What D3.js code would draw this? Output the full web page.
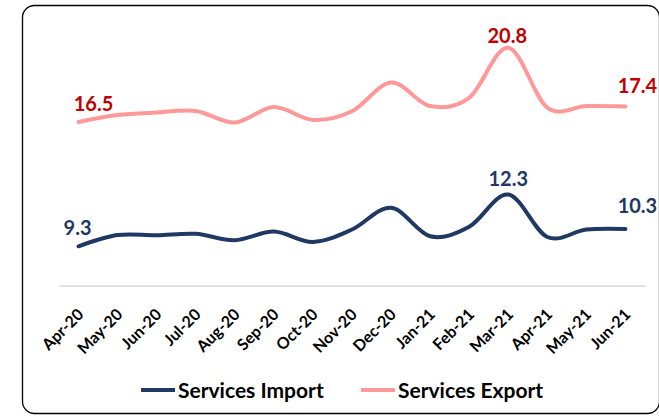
<!DOCTYPE html>
<html>
<head>
<meta charset="utf-8">
<script src="https://cdn.jsdelivr.net/npm/d3@7"></script>
<style>
  html, body { margin: 0; padding: 0; background: #fff; }
  svg { display: block; font-family: Lato, "Open Sans", sans-serif; }
</style>
</head>
<body>
<div id="chart"></div>
<script>
// data
const months = ["Apr-20", "May-20", "Jun-20", "Jul-20", "Aug-20", "Sep-20", "Oct-20", "Nov-20",
  "Dec-20", "Jan-21", "Feb-21", "Mar-21", "Apr-21", "May-21", "Jun-21"];
const servicesImport = [9.3, 9.95, 9.94, 10.02, 9.65, 10.15, 9.55, 10.27, 11.53, 9.88, 10.43, 12.3, 9.84, 10.27, 10.3];
const servicesExport = [16.5, 16.9, 17.05, 17.14, 16.47, 17.37, 16.62, 17.12, 18.78, 17.42, 17.9, 20.8, 17.33, 17.42, 17.4];
const labelled = [0, 11, 14];

const width = 659, height = 417;

const svg = d3.select("#chart").append("svg")
  .attr("width", width)
  .attr("height", height);

// frame
svg.append("rect")
  .attr("x", 22.5).attr("y", 5.5)
  .attr("width", 637).attr("height", 408)
  .attr("rx", 12)
  .attr("fill", "#fff")
  .attr("stroke", "#000")
  .attr("stroke-width", 1.3);

const x = d3.scaleBand()
  .domain(months)
  .range([59, 645]);

const y = d3.scaleLinear()
  .domain([7, 22])
  .range([286, 27]);

const cx = d => x(d) + x.bandwidth() / 2;

// x axis
const xAxis = svg.append("g")
  .attr("transform", "translate(0,285.5)")
  .call(d3.axisBottom(x).tickSize(0).tickPadding(0));
xAxis.select(".domain").attr("stroke", "#d9d9d9").attr("stroke-width", 1.3);
xAxis.selectAll("text")
  .attr("y", 0).attr("dy", 0)
  .attr("transform", "translate(6,30) rotate(-45)")
  .style("text-anchor", "end")
  .style("font-family", "Lato, sans-serif")
  .style("font-size", "16px")
  .style("font-weight", "bold")
  .attr("fill", "#000");

const series = [
  { name: "Services Import", values: servicesImport, color: "#203864", labelColor: "#203864",
    offsets: [[-1, -11.5], [0, -8], [12, -16]] },
  { name: "Services Export", values: servicesExport, color: "#FF9999", labelColor: "#C00000",
    offsets: [[15, -10.5], [-1, -5], [12, -13]] }
];

const line = d3.line()
  .x((d, i) => cx(months[i]))
  .y(d => y(d))
  .curve(d3.curveCatmullRom.alpha(0));

series.forEach(s => {
  svg.append("path")
    .datum(s.values)
    .attr("fill", "none")
    .attr("stroke", s.color)
    .attr("stroke-width", 4)
    .attr("stroke-linecap", "round")
    .attr("d", line);

  svg.selectAll(null)
    .data(labelled)
    .enter()
    .append("text")
    .attr("x", (i, k) => cx(months[i]) + s.offsets[k][0])
    .attr("y", (i, k) => y(s.values[i]) + s.offsets[k][1])
    .attr("text-anchor", "middle")
    .attr("fill", s.labelColor)
    .style("font-size", "20px")
    .style("font-weight", "bold")
    .text(i => s.values[i].toFixed(1));
});

// legend
const legendPos = [141, 361];
const legend = svg.selectAll(".legend")
  .data(series)
  .enter()
  .append("g")
  .attr("transform", (d, i) => "translate(" + legendPos[i] + ",390)");
legend.append("line")
  .attr("x1", 0).attr("x2", 34)
  .attr("stroke", d => d.color)
  .attr("stroke-width", 4);
legend.append("text")
  .attr("x", 37).attr("y", 7.5)
  .style("font-size", "21px")
  .style("font-weight", "bold")
  .attr("fill", "#000")
  .text(d => d.name);
</script>
</body>
</html>
